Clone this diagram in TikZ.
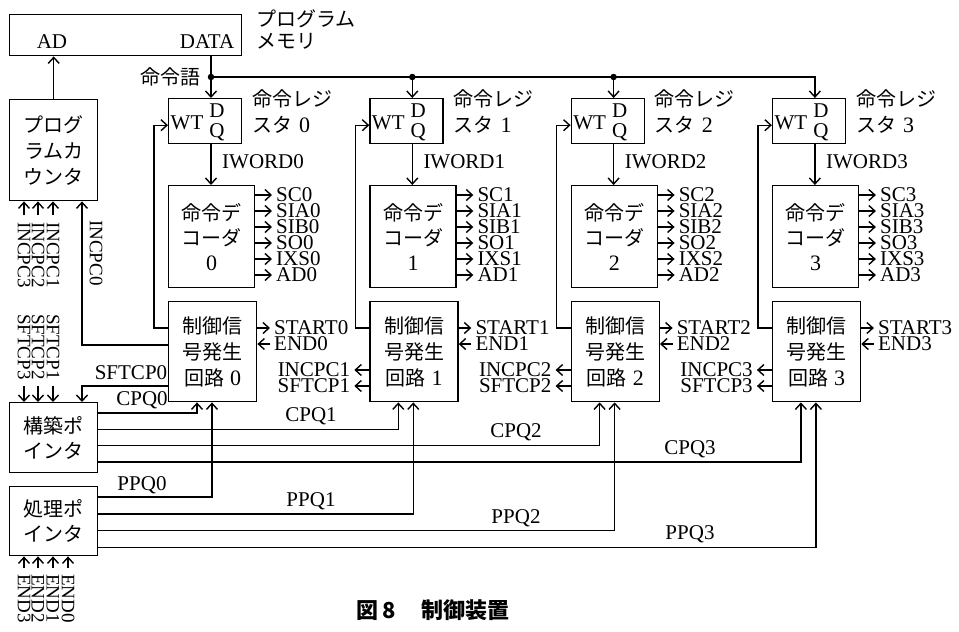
\documentclass[tikz,border=0pt]{standalone}
\usepackage{fontspec}
\setmainfont{Liberation Serif}
\newfontfamily\jp{Noto Sans CJK JP}
\usetikzlibrary{arrows.meta,positioning,calc}

\begin{document}
\begin{tikzpicture}[x=1pt,y=-1pt,
  every node/.style={font=\fontsize{21}{16}\selectfont,inner sep=0pt},
  blk/.style={draw,line width=1.4pt,inner sep=0pt,anchor=north west},
  jtxt/.style={font=\jp\fontsize{20}{26}\selectfont,align=center},
  ln/.style={line width=1.4pt},
  ar/.style={ln,-{Straight Barb[length=6pt,width=11pt]}},
  vlbl/.style={rotate=-90,anchor=west,font=\fontsize{19}{16}\selectfont},
  dot/.style={circle,fill,inner sep=0pt,minimum size=6.5pt}]
\useasboundingbox (0,0) rectangle (959,632);

% memory, program counter and pointers
\node[blk,minimum width=232pt,minimum height=41pt] (mem) at (9,14) {};
\node (ad) at (52,42) {AD};
\node (data) at (207,42) {DATA};
\node[jtxt,font=\jp\fontsize{20}{22}\selectfont,align=left,anchor=north west] (memlbl) at (256,9) {プログラム\\メモリ};
\node[blk,jtxt,minimum width=88pt,minimum height=101pt] (pc) at (9,99) {プログ\\ラムカ\\ウンタ};
\node[blk,jtxt,font=\jp\fontsize{20}{25}\selectfont,minimum width=88pt,minimum height=70pt] (cptr) at (9,402) {構築ポ\\インタ};
\node[blk,jtxt,font=\jp\fontsize{20}{25}\selectfont,minimum width=88pt,minimum height=69pt] (pptr) at (9,486) {処理ポ\\インタ};
\draw[ar] (pc.north) -- (pc.north |- mem.south);

% the four register / decoder / control columns
\foreach \i in {0,...,3}{
  \pgfmathsetmacro\xo{168+201.3*\i}
  \node[blk,minimum width=73pt,minimum height=45pt] (wt\i) at (\xo,98) {};
  \node at (\xo+19,123) {WT};
  \node at (\xo+49,111) {D};
  \node at (\xo+49,132) {Q};
  \coordinate (d\i) at ([xshift=43pt]wt\i.north west);
  \node[jtxt,align=left,anchor=north west] (reg\i) at (\xo+84,89) {命令レジ\\スタ\hspace{7pt}{\rmfamily\fontsize{22}{26}\selectfont\i}};
  \node[blk,jtxt,font=\jp\fontsize{20}{25}\selectfont,minimum width=86pt,minimum height=102pt] (dec\i) at (\xo,185) {命令デ\\コーダ\\{\rmfamily\fontsize{22}{25}\selectfont\i}};
  \node[anchor=west] (iw\i) at (\xo+54,162) {IWORD\i};
  \draw[ar] ([xshift=43pt]wt\i.south west) -- ([xshift=43pt]dec\i.north west);
  \foreach \s [count=\k from 0] in {SC,SIA,SIB,SO,IXS,AD}{
    \node[anchor=west] (o\i\k) at (\xo+108,195+16*\k) {\s\i};
    \draw[ar] (dec\i.east |- o\i\k.west) -- ([xshift=-4pt]o\i\k.west);
  }
  \node[blk,jtxt,minimum width=88pt,minimum height=100pt] (ctl\i) at (\xo,301) {制御信\\号発生\\回路\hspace{6pt}{\rmfamily\fontsize{22}{26}\selectfont\i}};
  \node[anchor=west] (st\i) at (\xo+106,328) {START\i};
  \node[anchor=west] (en\i) at (\xo+106,344) {END\i};
  \draw[ar] (ctl\i.east |- st\i.west) -- ([xshift=-4pt]st\i.west);
  \draw[ar] ([xshift=-4pt]en\i.west) -- (ctl\i.east |- en\i.west);
  \draw[ar] (ctl\i.west |- st\i.west) -| ([xshift=-14pt,yshift=-4pt]wt\i.west) -- ([yshift=-4pt]wt\i.west);
  \ifnum\i>0
    \node[anchor=east] (ic\i) at (\xo-19,370) {INCPC\i};
    \node[anchor=east] (sf\i) at (\xo-19,386) {SFTCP\i};
    \draw[ar] (ctl\i.west |- ic\i.east) -- ([xshift=4pt]ic\i.east);
    \draw[ar] (ctl\i.west |- sf\i.east) -- ([xshift=4pt]sf\i.east);
  \fi
  \draw[ar] ($(cptr.north east)+(0,11+16.3*\i)$) -| ([xshift=29pt]ctl\i.south west);
  \draw[ar] ($(pptr.north east)+(0,11+16.8*\i)$) -| ([xshift=44pt]ctl\i.south west);
}

% pointer labels
\foreach \i/\xl in {0/142,1/311,2/516,3/690}{
  \node (cl\i) at (\xl,400+16.3*\i) {CPQ\i};
  \node (pl\i) at (\xl,485+16.5*\i) {PPQ\i};
}

% instruction word bus
\coordinate (bus) at ($(d0)+(0,-21)$);
\draw[ar] (mem.south -| d0) -- (d0);
\draw[ar] (bus) -| (d3);
\draw[ar] (bus -| d1) -- (d1);
\draw[ar] (bus -| d2) -- (d2);
\node[dot] at (bus) {};
\node[dot] at (bus -| d1) {};
\node[dot] at (bus -| d2) {};
\node[jtxt,anchor=east] (word) at ($(bus)+(-10,0)$) {命令語};

% counter and pointer control lines
\node[vlbl] (pi0) at (96,220) {INCPC0};
\draw[ar] ($(ctl0.north west)+(0,44)$) -| ($(pc.south west)+(73,0)$);
\node (ps0) at (131,373) {SFTCP0};
\draw[ar] ($(ctl0.north west)+(0,85)$) -| ($(cptr.north west)+(73,0)$);
\foreach \i/\xl in {1/53,2/38,3/24}{
  \node[vlbl] (pi\i) at (\xl,222) {INCPC\i};
  \draw[ar] ([yshift=7pt]pi\i.west) -- (pi\i.west |- pc.south);
  \node[vlbl] (ps\i) at (\xl,314) {SFTCP\i};
  \draw[ar] ([yshift=-6pt]ps\i.east) -- (ps\i.east |- cptr.north);
}
\foreach \i/\xl in {0/68,1/53,2/38,3/24}{
  \node[vlbl] (ee\i) at (\xl,574) {END\i};
  \draw[ar] ([yshift=6pt]ee\i.west) -- (ee\i.west |- pptr.south);
}

\node[font=\jp\bfseries\fontsize{22}{26}\selectfont] (cap) at (433,610) {図\,8\hspace{26pt}制御装置};
\end{tikzpicture}
\end{document}
